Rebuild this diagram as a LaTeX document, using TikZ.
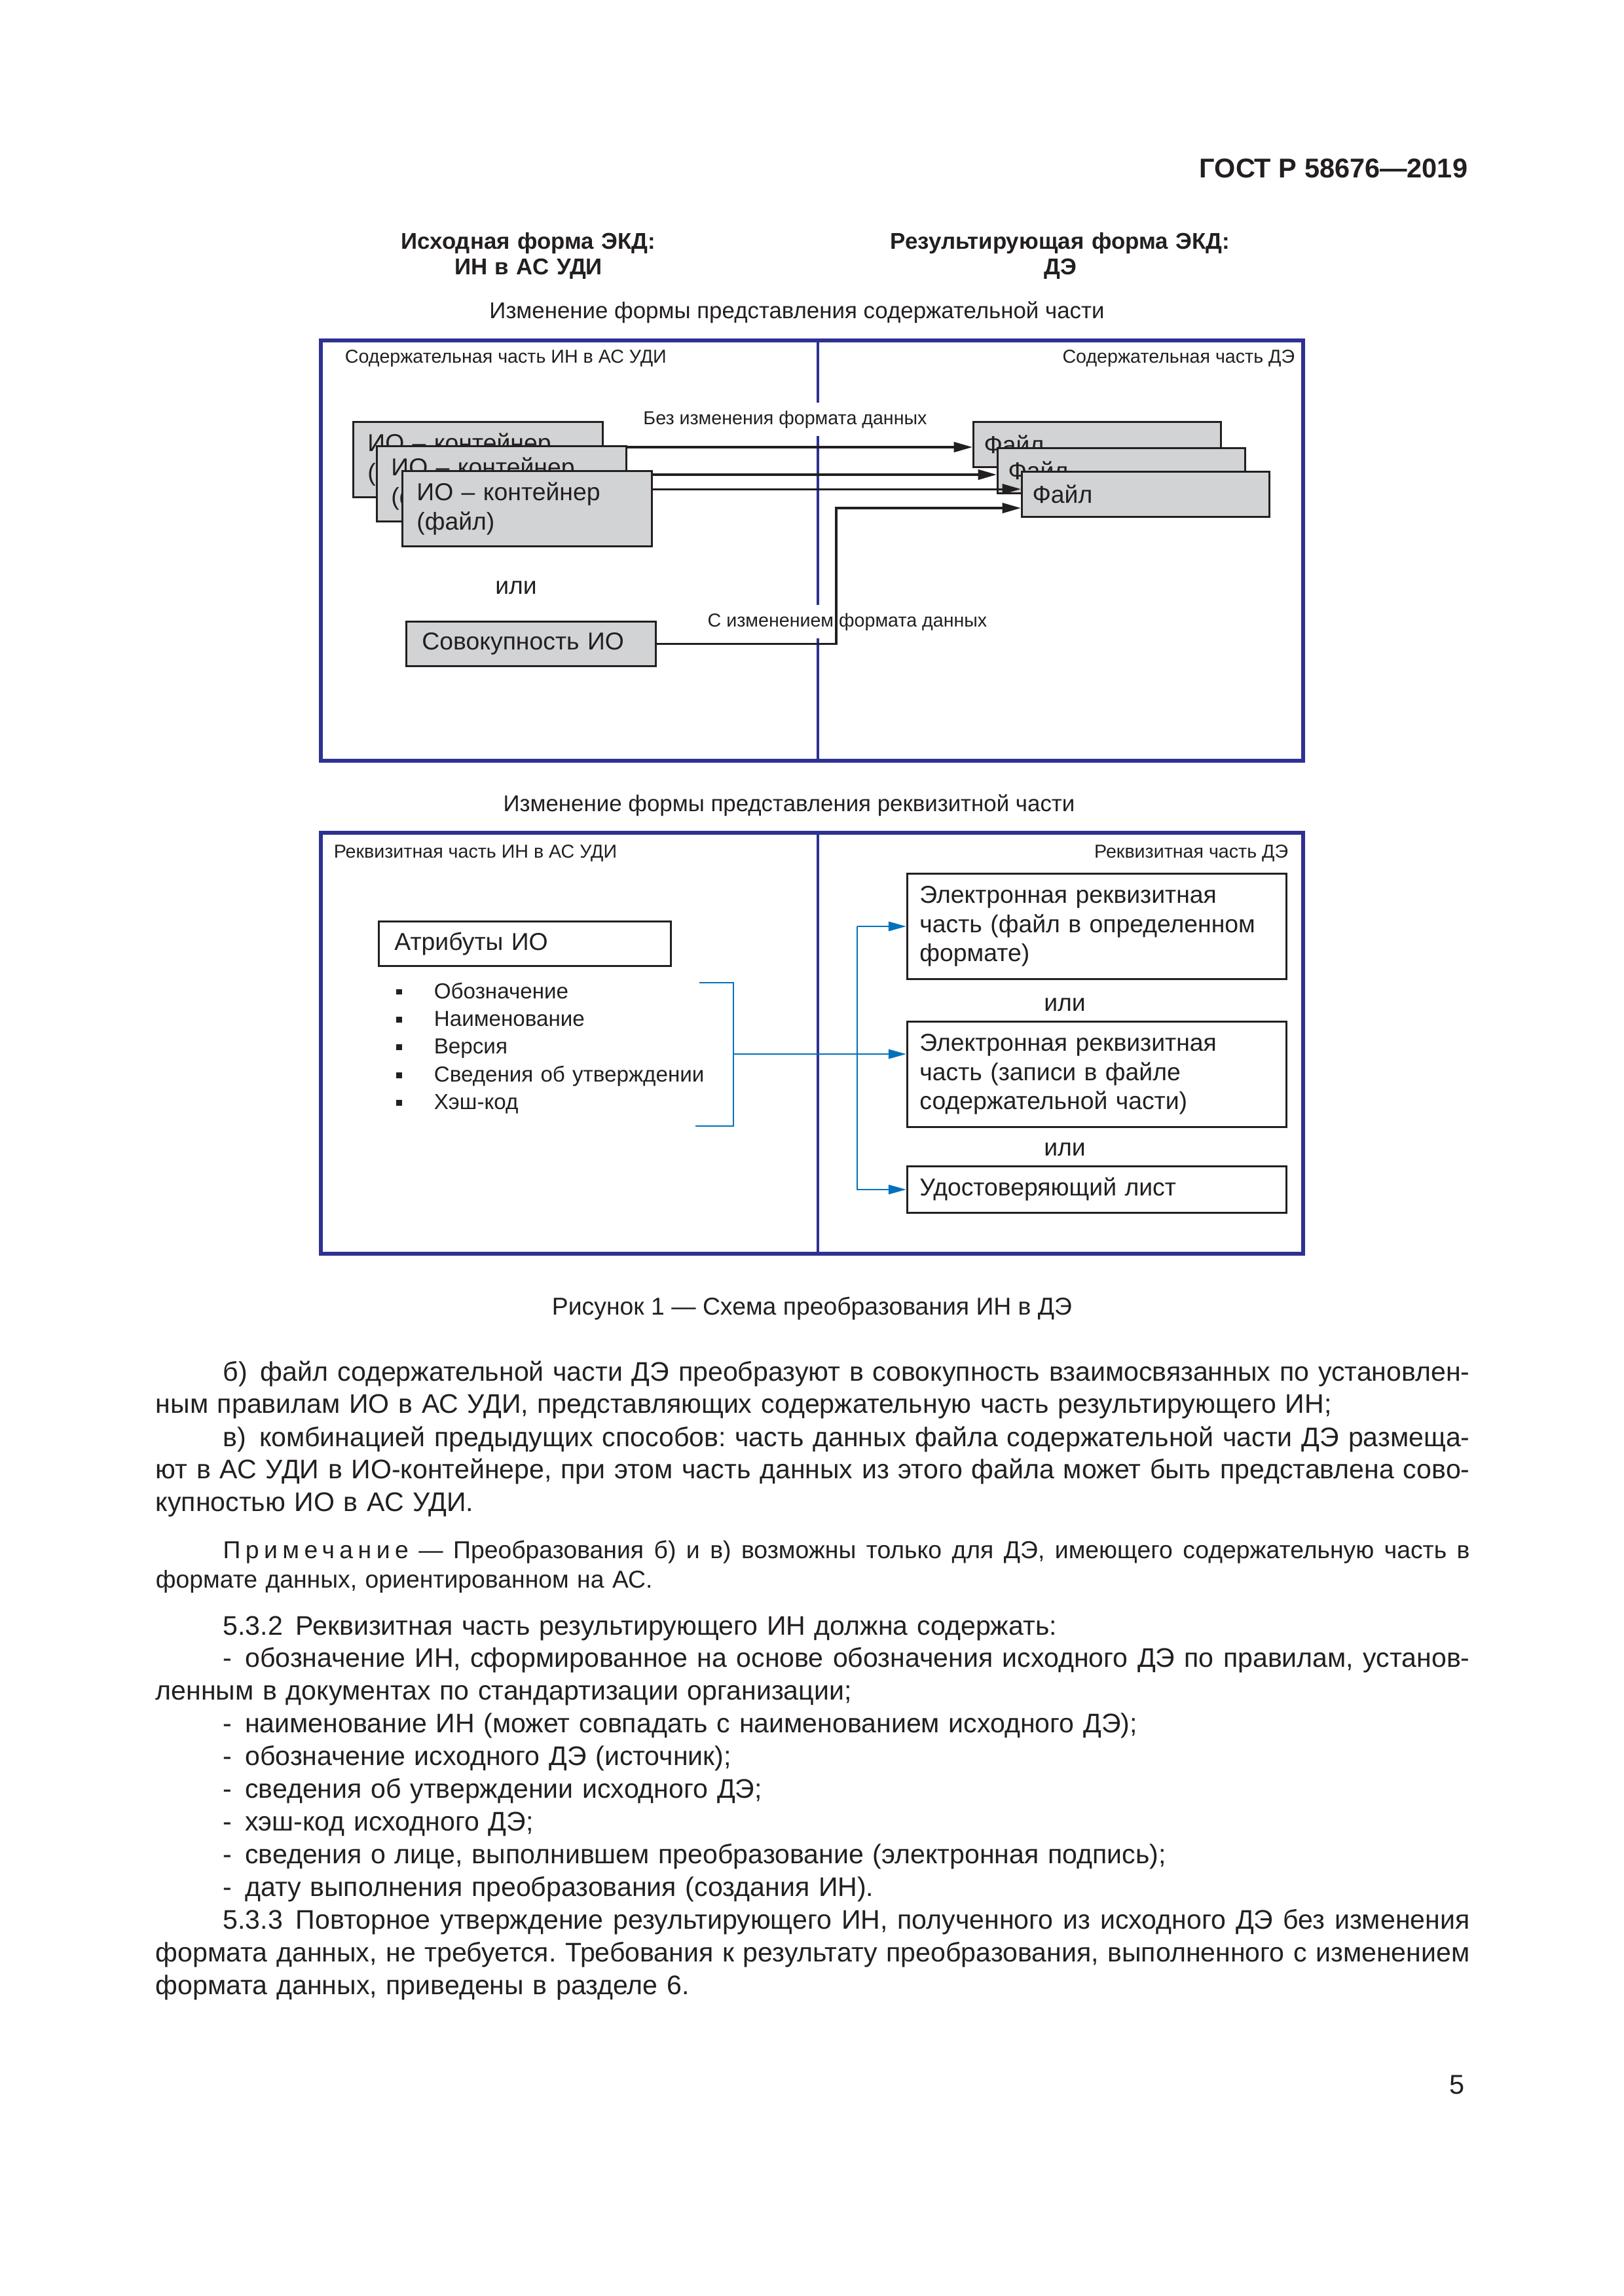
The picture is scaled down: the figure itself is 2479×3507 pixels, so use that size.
\documentclass[tikz,border=0pt]{standalone}
\usepackage{fontspec}
\setmainfont{Liberation Sans}
\newfontfamily\spacedfont[LetterSpace=20]{Liberation Sans}
\usepackage{xcolor}
\usepackage{tikz}
\usetikzlibrary{arrows.meta, positioning, calc}
\frenchspacing

\definecolor{panelnavy}{RGB}{46,49,146}
\definecolor{linkblue}{RGB}{0,114,188}
\definecolor{boxgray}{RGB}{209,211,212}
\definecolor{ink}{RGB}{35,31,32}

\newcommand{\sqbullet}{\leavevmode\llap{\raisebox{0.47mm}{\rule{0.76mm}{0.76mm}}\hspace{4.15mm}}}
\newcommand{\jline}[1]{\makebox[170mm][s]{\spaceskip=0.278em plus 0.6em minus 0.1em #1}}
\newcommand{\ind}{\hspace*{8.7mm}}
\newcommand{\gap}{\hspace{1.7mm}}

\begin{document}
\begin{tikzpicture}[
  x=0.08471mm, y=-0.08471mm,
  every node/.style={text=ink},
  gbox/.style={draw=ink, fill=boxgray, line width=0.7pt, anchor=north west, inner ysep=0pt, align=left, font=\fontsize{9}{10.8}\selectfont},
  wbox/.style={draw=ink, fill=white, line width=0.7pt, anchor=north west, inner ysep=0pt, align=left, font=\fontsize{9}{10.8}\selectfont},
  panel/.style={draw=panelnavy, line width=1.4pt},
  divider/.style={draw=panelnavy, line width=1pt},
  arrow/.style={-{Triangle[length=2.4mm, width=1.3mm]}, draw=ink, line width=0.75pt},
  barrow/.style={-{Triangle[length=2.3mm, width=1.2mm]}, draw=linkblue, line width=0.7pt},
  titlebf/.style={font=\fontsize{8.4}{9.6}\selectfont\bfseries, text width=60mm, align=center, anchor=base, inner sep=0pt},
  secttl/.style={font=\fontsize{8.4}{10}\selectfont, anchor=base, inner sep=0pt},
  parthead/.style={font=\fontsize{6.9}{8}\selectfont, inner sep=0pt},
  flowlabel/.style={font=\fontsize{6.9}{8}\selectfont, fill=white, anchor=base, inner xsep=1pt, inner ysep=3pt},
  ortext/.style={font=\fontsize{9}{10.8}\selectfont, anchor=base, inner sep=0pt},
  bodytext/.style={font=\fontsize{9.9}{12.04}\selectfont, text width=170mm, anchor=base west, inner sep=0pt},
  notetext/.style={font=\fontsize{9}{10.84}\selectfont, text width=170mm, anchor=base west, inner sep=0pt}
]
  \fill[white] (0,0) rectangle (2479,3507);
  \useasboundingbox (0,0) rectangle (2479,3507);

  \node[anchor=base east, inner sep=0pt, font=\fontsize{10}{12}\selectfont\bfseries] (gost) at (2242,271) {ГОСТ Р 58676—2019};

  % headings of the figure
  \node[titlebf] (srchead) at (807,380) {Исходная форма ЭКД:\\ИН в АС УДИ};
  \node[titlebf] (reshead) at (1619,380) {Результирующая форма ЭКД:\\ДЭ};
  \node[secttl] (contttl) at (1217,486) {Изменение формы представления содержательной части};
  \node[secttl] (reqttl) at (1205,1239) {Изменение формы представления реквизитной части};

  % panels
  \draw[panel] (490,520) rectangle (1990,1162);
  \draw[divider] (1249,520) -- (1249,1162);
  \draw[panel] (490,1272) rectangle (1990,1915);
  \draw[divider] (1249,1272) -- (1249,1915);

  \node[parthead, anchor=base west] (srccont) at (526,554) {Содержательная часть ИН в АС УДИ};
  \node[parthead, anchor=base east] (rescont) at (1978,554) {Содержательная часть ДЭ};
  \node[parthead, anchor=base west] (srcreq) at (509,1310) {Реквизитная часть ИН в АС УДИ};
  \node[parthead, anchor=base east] (resreq) at (1968,1310) {Реквизитная часть ДЭ};

  \node[flowlabel] (samefmt) at (1199,648) {Без изменения формата данных};
  \node[flowlabel] (newfmt) at (1294,957) {С изменением формата данных};

  % content part
  \node[gbox, inner xsep=1.86mm, text width=28.55mm, minimum height=9.74mm] (io1) at (538,643) {ИО – контейнер\\(файл)};
  \node[gbox, inner xsep=1.86mm, text width=28.55mm, minimum height=9.74mm] (io2) at (574,680) {ИО – контейнер\\(файл)};
  \node[gbox, inner xsep=1.86mm, text width=28.55mm, minimum height=9.74mm] (io3) at (613,718) {ИО – контейнер\\(файл)};
  \node[gbox, inner xsep=1.36mm, text width=29.31mm, minimum height=5.85mm] (f1) at (1485,643) {Файл};
  \node[gbox, inner xsep=1.36mm, text width=29.31mm, minimum height=5.85mm] (f2) at (1522,683) {Файл};
  \node[gbox, inner xsep=1.36mm, text width=29.31mm, minimum height=5.85mm] (f3) at (1559,719) {Файл};
  \node[ortext] (or1) at (788,907) {или};
  \node[gbox, inner xsep=2.03mm, text width=28.21mm, minimum height=5.76mm] (sov) at (619,948) {Совокупность ИО};
  \coordinate (bend) at (1277,776);

  \draw[arrow] ([yshift=-0.25mm]io2.north east) -- ([yshift=-0.25mm]io2.north east -| f1.west);
  \draw[arrow] ([yshift=-0.59mm]io3.north east) -- ([yshift=-0.59mm]io3.north east -| f2.west);
  \draw[arrow] ([yshift=-2.46mm]io3.north east) -- ([yshift=-2.46mm]io3.north east -| f3.west);
  \draw[arrow] (sov.east) -| (bend) -- (bend -| f3.west);

  % requisite part
  \node[wbox, inner xsep=2.03mm, text width=33.72mm, minimum height=5.76mm] (attr) at (577,1406) {Атрибуты ИО};
  \node[anchor=base west, inner sep=0pt, text width=40mm, align=left, font=\fontsize{8}{10.24}\selectfont] (attrlist) at (662,1525)
    {\sqbullet Обозначение\\\sqbullet Наименование\\\sqbullet Версия\\\sqbullet Сведения об утверждении\\\sqbullet Хэш-код};
  \node[wbox, inner xsep=1.61mm, text width=45.83mm, minimum height=13.64mm] (r1) at (1384,1333) {Электронная реквизитная\\часть (файл в определенном\\формате)};
  \node[ortext] (or2) at (1626,1544) {или};
  \node[wbox, inner xsep=1.61mm, text width=45.83mm, minimum height=13.64mm] (r2) at (1384,1559) {Электронная реквизитная\\часть (записи в файле\\содержательной части)};
  \node[ortext] (or3) at (1626,1765) {или};
  \node[wbox, inner xsep=1.61mm, text width=45.83mm, minimum height=6.01mm] (r3) at (1384,1780) {Удостоверяющий лист};

  \draw[linkblue, line width=0.7pt] (1062,1720) -- (1120,1720) -- (1120,1501) -- (1068,1501);
  \coordinate (brk) at (1120,1610);
  \coordinate (vx) at (1309,1610);
  \draw[barrow] (brk) -- (brk -| r2.west);
  \draw[barrow] (vx |- r1.west) -- (r1.west);
  \draw[barrow] (vx |- r1.west) -- (vx |- r3.west) -- (r3.west);

  \node[anchor=base, inner sep=0pt, font=\fontsize{9}{10.8}\selectfont] (figcap) at (1240,2008) {Рисунок 1 — Схема преобразования ИН в ДЭ};

  % running text
  \node[bodytext] (parb) at (237,2109)
    {\jline{\ind б)\gap файл содержательной части ДЭ преобразуют в совокупность взаимосвязанных по установлен-}\\
     ным правилам ИО в АС УДИ, представляющих содержательную часть результирующего ИН;};
  \node[bodytext] (parv) at (237,2209)
    {\jline{\ind в)\gap комбинацией предыдущих способов: часть данных файла содержательной части ДЭ размеща-}\\
     \jline{ют в АС УДИ в ИО-контейнере, при этом часть данных из этого файла может быть представлена сово-}\\
     купностью ИО в АС УДИ.};
  \node[notetext] (note) at (237,2380)
    {\jline{\ind{\spacedfont Примечание} — Преобразования б) и в) возможны только для ДЭ, имеющего содержательную часть в}\\
     формате данных, ориентированном на АС.};
  \node[bodytext] (sect) at (237,2497)
    {\ind 5.3.2\gap Реквизитная часть результирующего ИН должна содержать:\\
     \jline{\ind -\gap обозначение ИН, сформированное на основе обозначения исходного ДЭ по правилам, установ-}\\
     ленным в документах по стандартизации организации;\\
     \ind -\gap наименование ИН (может совпадать с наименованием исходного ДЭ);\\
     \ind -\gap обозначение исходного ДЭ (источник);\\
     \ind -\gap сведения об утверждении исходного ДЭ;\\
     \ind -\gap хэш-код исходного ДЭ;\\
     \ind -\gap сведения о лице, выполнившем преобразование (электронная подпись);\\
     \ind -\gap дату выполнения преобразования (создания ИН).\\
     \jline{\ind 5.3.3\gap Повторное утверждение результирующего ИН, полученного из исходного ДЭ без изменения}\\
     \jline{формата данных, не требуется. Требования к результату преобразования, выполненного с изменением}\\
     формата данных, приведены в разделе 6.};

  \node[anchor=base east, inner sep=0pt, font=\fontsize{10}{12}\selectfont] (pagenum) at (2237,3198) {5};
\end{tikzpicture}
\end{document}
